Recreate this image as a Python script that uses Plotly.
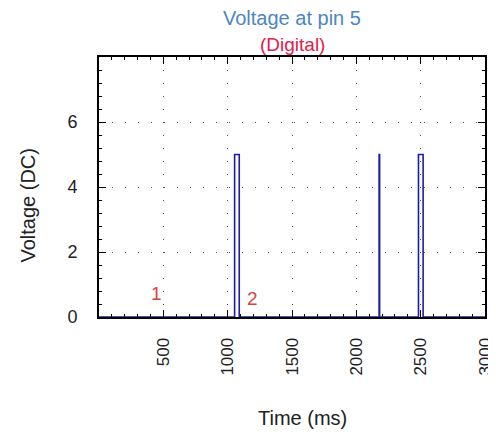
import plotly.graph_objects as go

# ---- data ----
time_ms = [0, 1054, 1090, 2177, 2181, 2483, 2519, 3000]
voltage = [0, 5, 0, 5, 0, 5, 0, 0]
x_ticks = [500, 1000, 1500, 2000, 2500, 3000]
y_ticks = [0, 2, 4, 6]
marker_labels = ["1", "2"]
marker_x = [445, 1195]
marker_y = [0.72, 0.58]
title_main = "Voltage at pin 5"
title_sub = "(Digital)"
x_title = "Time (ms)"
y_title = "Voltage (DC)"

FONT = "Liberation Sans, Arial, sans-serif"

fig = go.Figure()
fig.add_trace(go.Scatter(
    x=time_ms, y=voltage, mode="lines", line_shape="hv",
    line=dict(color="#1c1ca8", width=1.6), showlegend=False,
))

for t, mx, my in zip(marker_labels, marker_x, marker_y):
    fig.add_annotation(x=mx, y=my, xref="x", yref="y", text=t, showarrow=False,
                       font=dict(family=FONT, size=19, color="#d9423f"))

fig.add_annotation(x=0.5, y=1.15, xref="paper", yref="paper", text=title_main,
                   showarrow=False, xanchor="center", yanchor="middle",
                   font=dict(family=FONT, size=20, color="#4d86bf"))
fig.add_annotation(x=0.5, y=1.048, xref="paper", yref="paper", text=title_sub,
                   showarrow=False, xanchor="center", yanchor="middle",
                   font=dict(family=FONT, size=19, color="#e0204a"))
fig.add_annotation(x=0.528, y=-0.388, xref="paper", yref="paper", text=x_title,
                   showarrow=False, xanchor="center", yanchor="middle",
                   font=dict(family=FONT, size=20, color="#222"))
fig.add_annotation(x=-0.183, y=0.43, xref="paper", yref="paper", text=y_title,
                   showarrow=False, xanchor="center", yanchor="middle", textangle=-90,
                   font=dict(family=FONT, size=20, color="#222"))

# page body has an 8px default margin, compensated here
fig.update_layout(
    width=496, height=437,
    margin=dict(l=91, r=19, t=49, b=128),
    paper_bgcolor="white", plot_bgcolor="white",
    font=dict(family=FONT, color="#222"),
)

fig.update_xaxes(
    range=[0, 3000], tickmode="array", tickvals=x_ticks, automargin=False,
    tickangle=-90, tickfont=dict(family=FONT, size=17, color="#222"),
    ticks="inside", ticklen=7, tickcolor="black",
    showline=True, linecolor="black", linewidth=2, mirror="ticks",
    showgrid=True, gridcolor="#555", gridwidth=1.3, griddash="1px,12px",
    zeroline=False,
    minor=dict(dtick=100, ticks="inside", ticklen=3, tickcolor="black", showgrid=False),
    ticklabelstandoff=12,
)
fig.update_yaxes(
    range=[0, 8], tickmode="array", tickvals=y_ticks, automargin=False,
    tickfont=dict(family=FONT, size=18, color="#222"),
    ticks="inside", ticklen=7, tickcolor="black",
    showline=True, linecolor="black", linewidth=2, mirror="ticks",
    showgrid=True, gridcolor="#555", gridwidth=1.3, griddash="1px,12px",
    zeroline=False,
    minor=dict(dtick=0.4, ticks="inside", ticklen=3, tickcolor="black", showgrid=False),
    ticklabelstandoff=16,
)

fig.write_html("out.html")
